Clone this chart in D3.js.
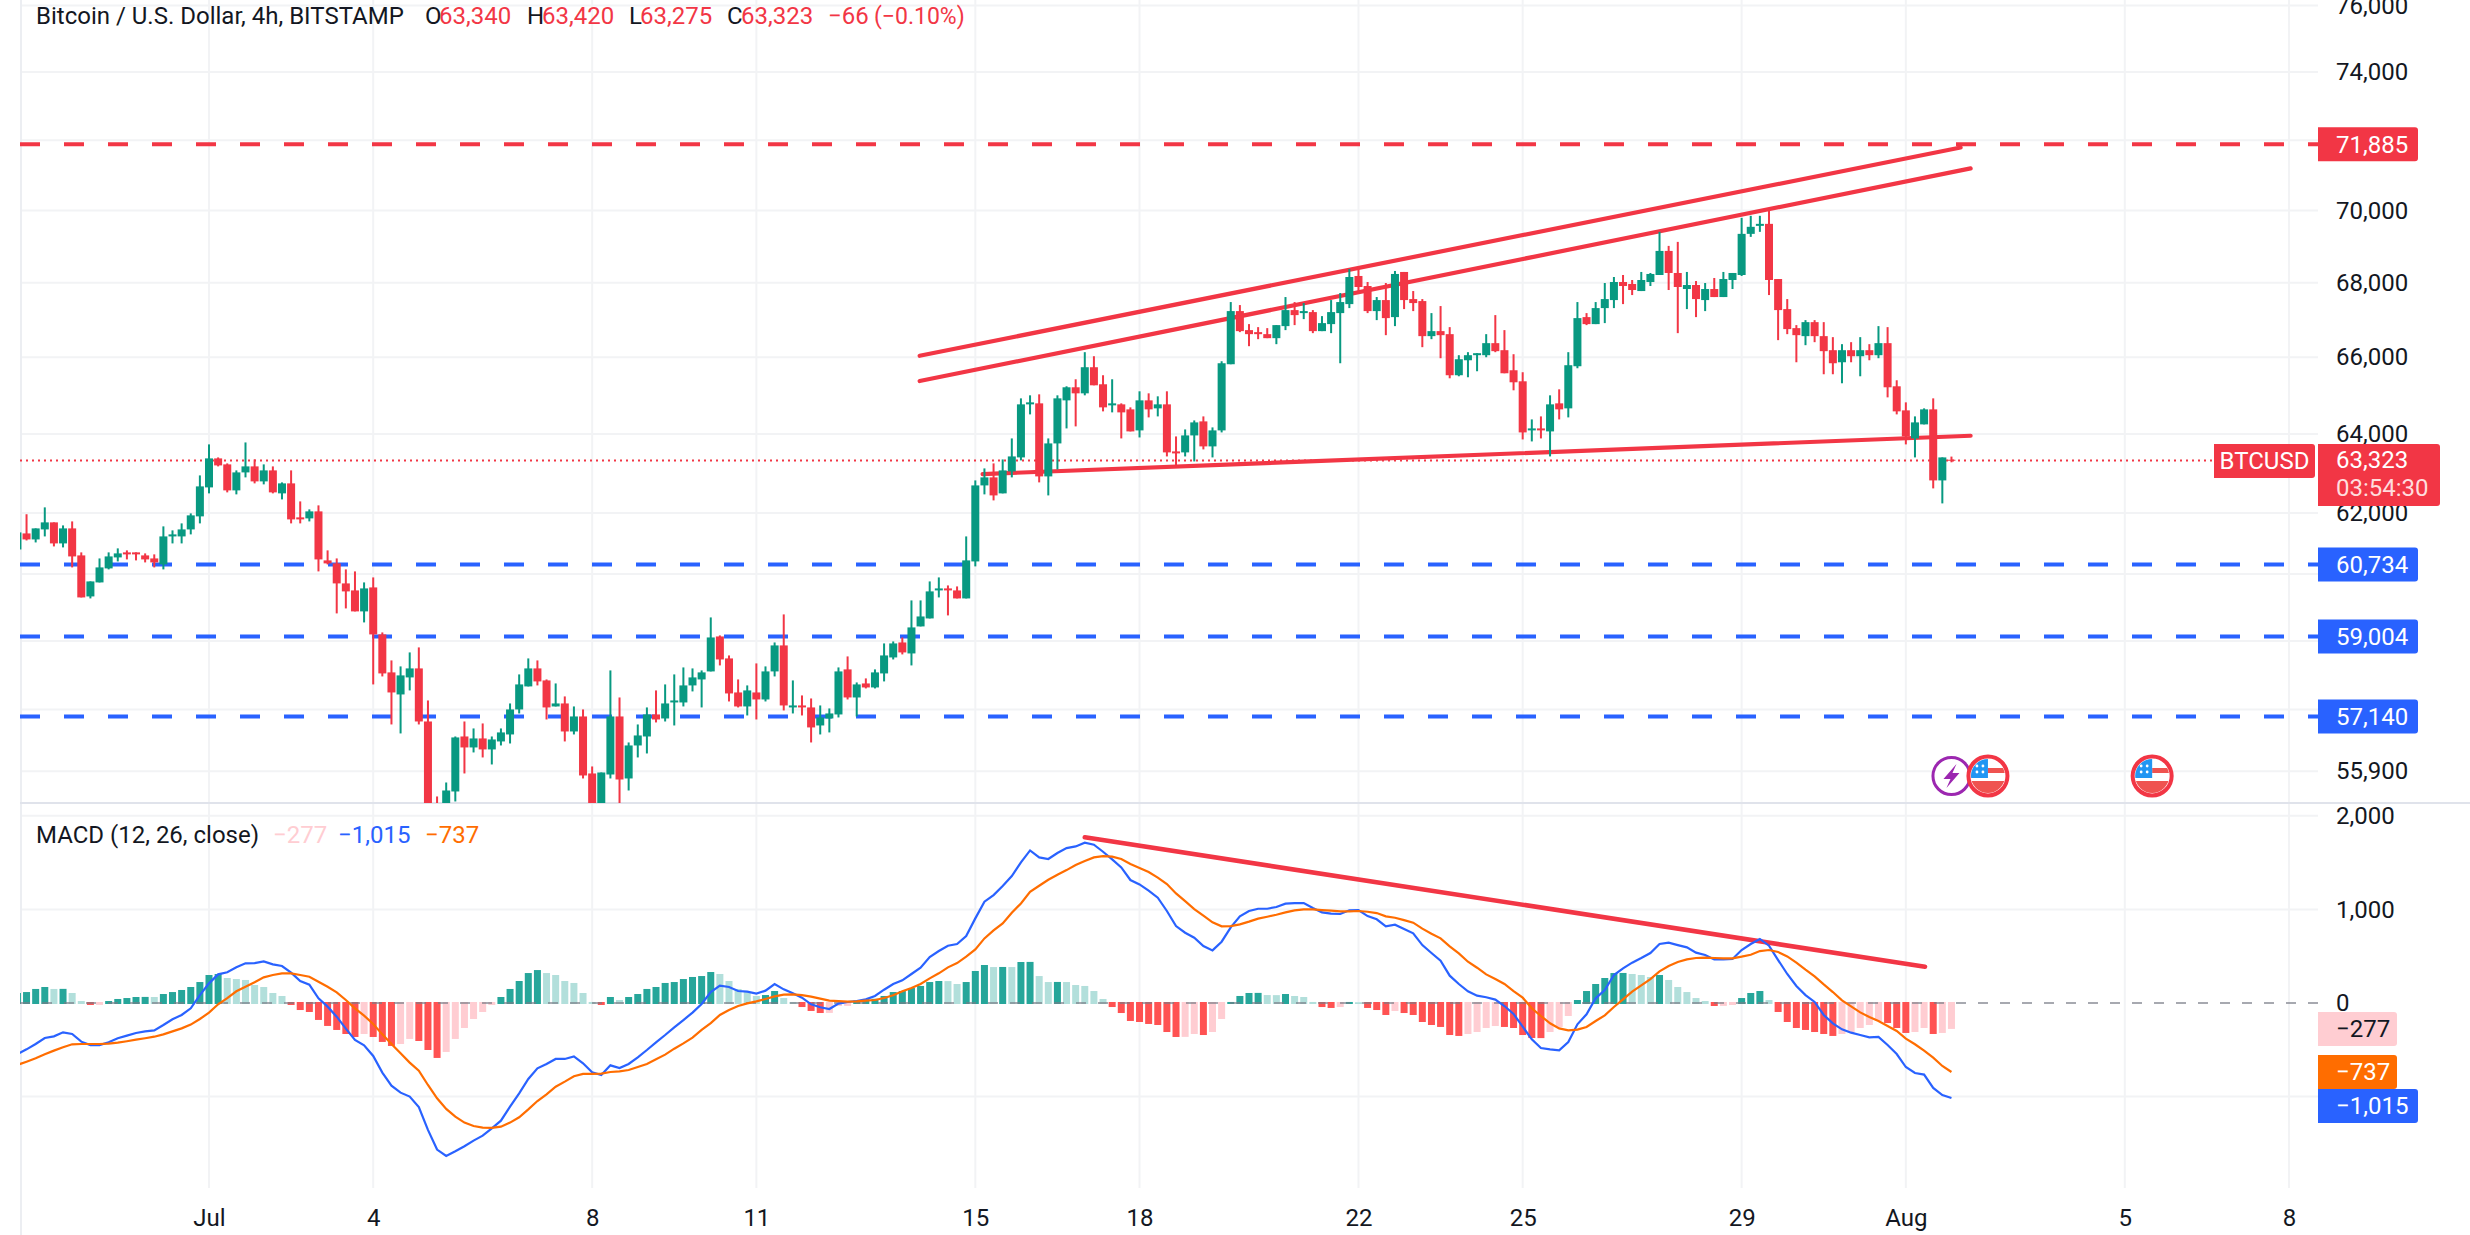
<!DOCTYPE html>
<html>
  <head>
    <title>BTCUSD 4h</title>
    <script src="https://d3js.org/d3.v7.min.js"></script>
    <style>
      html, body { margin: 0; background: #fff; }
      svg { display: block; }
      text { font-family: Roboto, sans-serif; font-size: 24px; fill: #131722; }
    </style>
  </head>
  <body>
    <svg width="2470" height="1235"></svg>
    <script>
      // bar numbers count 4h candles from Jul 1 00:00, the first one sits left of the pane edge
      const firstBar = -21;

      const opens = [
        61100,61495,61347,61594,61768,61249,61619,60955,59960,60298,
        60638,60906,61029,61029,60955,60881,60735,61421,61421,61594,
        61917,62641,63374,63222,62566,63019,63171,62792,63070,62491,
        62742,61892,61867,62041,60833,60760,60274,60105,59601,60177,
        59053,58160,57648,58043,58253,57026,55100,54600,55447,56684,
        56435,56639,56390,56571,56730,57302,57834,58253,57973,57371,
        57440,56798,57141,55849,55000,55826,57141,55737,56480,56684,
        57187,57095,57463,57463,57857,57996,58183,59005,58487,57694,
        57371,57694,57532,58183,58793,57348,57394,57348,56935,57095,
        57187,58230,57578,57903,57810,58136,58510,58863,58604,59243,
        59433,60105,60153,60105,59912,60808,62691,62893,62491,63044,
        63399,64763,64789,62918,63756,64867,65208,65050,65735,65287,
        64737,64763,64633,64090,64867,64659,64763,63552,63527,63961,
        64322,63680,64090,65814,67232,66721,66667,66613,66506,66828,
        67259,67178,67205,66694,66882,67178,67421,68186,67912,67232,
        67530,67070,68296,67557,67503,66560,66694,66613,65524,65919,
        66053,66053,66373,66186,65655,65365,64090,64141,64064,64789,
        64659,65761,67070,66882,67313,67530,68021,67967,67775,68021,
        68213,68875,68268,67830,67939,67530,67830,67612,68076,68213,
        69348,69571,69627,68103,67286,66774,66560,66935,66560,66186,
        65866,66186,66026,66186,66053,66373,65234,64607,63884,64245,
        64633,62817,63340
      ];
      const highs = [
        61520,61970,61619,62141,61768,61693,61792,61029,60322,60881,
        61029,61127,61078,61029,61004,60980,61669,61570,61743,61991,
        62943,63731,63399,63247,63070,63781,63348,63222,63171,62767,
        63070,62290,62091,62191,61078,60881,60614,60565,60298,60419,
        59100,58440,58300,58628,58746,57509,55336,55647,56684,57026,
        56867,56981,56684,56867,57440,58113,58487,58440,57996,57903,
        57602,57371,57302,56006,55871,58206,57578,56548,56958,57348,
        57741,57880,58113,58276,58253,58206,59457,59029,58557,57996,
        57857,58370,58300,58863,59529,57973,57625,57555,57394,57325,
        58276,58534,57926,58020,58230,58840,58887,58981,59864,59864,
        60322,60419,60225,60201,61421,62817,63120,63247,63348,63884,
        64919,64998,65024,63884,64998,65234,65418,66133,66026,65524,
        65418,64789,64685,65103,65050,64972,65103,63935,64115,64347,
        64451,64167,65893,67476,67395,66882,66801,66774,66855,67612,
        67476,67449,67259,67097,67530,67721,68378,68405,68021,67612,
        67994,68323,68296,67775,67557,67178,67368,66801,66053,66133,
        66106,66613,67124,66721,66079,65603,64373,64451,64998,65155,
        66133,67476,67178,67476,67994,68158,68213,68076,68296,68268,
        69404,69014,69125,68296,68048,67994,68131,68296,68268,69795,
        69852,69852,70021,68103,67557,66855,66989,66989,66935,66533,
        66346,66399,66533,66346,66828,66801,65392,64815,64451,64659,
        64919,63399,63420
      ];
      const lows = [
        61100,61322,61273,61421,61175,61151,60662,59936,59912,60298,
        60614,60808,60857,60833,60784,60662,60614,61249,61249,61471,
        61743,62491,63171,62516,62466,62893,62742,62717,62491,62340,
        61743,61743,61792,60565,60735,59553,59672,59601,59338,57880,
        58066,56958,56753,57741,56958,54500,53700,54100,55225,55849,
        56322,56209,56051,56480,56525,57210,57834,57857,57072,57371,
        56571,56730,55737,54800,54800,55737,54900,55469,56209,56299,
        57004,57026,56935,57371,57718,57348,58183,58323,57486,57348,
        57164,57072,57486,58066,57279,57210,57164,56548,56730,56776,
        57118,57532,57141,57787,57787,57950,58463,58581,58323,59243,
        59433,59936,59505,59912,59912,60687,62466,62315,62491,62893,
        63323,64503,62767,62440,63095,64141,64193,64998,65260,64581,
        64555,63884,64064,63909,64425,64451,63424,63196,63424,63297,
        63603,63399,64038,65814,66667,66292,66479,66506,66346,66721,
        66855,67016,66640,66694,66640,65840,67313,67748,67178,66989,
        66586,66828,67286,67232,66266,66479,65973,65444,65497,65471,
        65629,65999,66133,65576,65129,63858,63807,63884,63424,64373,
        64425,65708,66855,66882,66909,67313,67421,67666,67775,67912,
        68213,67803,66640,67286,67070,67232,67612,67612,67830,68186,
        69264,69404,67666,66453,66613,65866,66319,66399,65550,65550,
        65313,65866,65497,65919,65973,64945,64503,63731,63399,64245,
        62616,62240,63275
      ];
      const closes = [
        61520,61347,61619,61768,61249,61619,60930,59936,60322,60662,
        60930,61004,60980,60980,60857,60784,61421,61471,61594,61942,
        62666,63374,63196,62566,63019,63171,62792,63070,62516,62742,
        61842,61842,62041,60857,60760,60274,60081,59601,60153,59053,
        58136,57694,58090,58253,57026,54830,54500,55469,56662,56435,
        56639,56390,56616,56776,57302,57880,58253,57950,57348,57440,
        56798,57141,55804,55000,55871,57141,55714,56480,56707,57187,
        57072,57440,57509,57857,58043,58160,58981,58463,57671,57371,
        57741,57532,58183,58793,57394,57394,57348,56890,57118,57210,
        58183,57578,57880,57810,58160,58557,58840,58628,59219,59480,
        60081,60153,60105,59912,60833,62691,62893,62440,63070,63424,
        64763,64815,62918,63756,64919,65208,65050,65735,65260,64685,
        64789,64555,64064,64867,64633,64763,63527,63501,63961,64296,
        63680,64090,65840,67232,66694,66613,66613,66506,66855,67259,
        67124,67232,66694,66909,67205,67476,68158,67885,67232,67530,
        67043,68241,67530,67449,66560,66694,66586,65524,65946,66053,
        66106,66373,66160,65576,65339,64038,64141,64090,64763,64633,
        65788,67043,66882,67313,67557,68021,67912,67803,68076,68241,
        68875,68268,67885,67939,67557,67830,67612,68103,68268,69348,
        69544,69627,68076,67259,66748,66586,66935,66560,66160,65840,
        66186,66026,66186,66053,66373,65208,64581,63935,64296,64633,
        62817,63399,63323
      ];

      const histogram = [
        107,117,150,171,150,151,107,21,-21,-20,
        21,43,53,64,65,64,96,117,139,171,
        224,299,310,267,256,246,192,171,107,75,
        -21,-75,-96,-181,-245,-288,-331,-363,-331,-363,
        -416,-459,-438,-384,-406,-502,-587,-523,-384,-267,
        -171,-96,-21,64,150,235,320,352,320,299,
        235,214,107,11,-21,64,32,64,96,150,
        171,214,224,256,278,288,331,310,235,150,
        117,75,85,128,53,11,-43,-85,-107,-106,
        -32,-31,25,43,45,75,117,128,160,182,
        224,235,234,203,224,342,406,384,385,384,
        438,439,288,224,225,224,192,182,128,43,
        -43,-107,-192,-203,-224,-235,-310,-363,-362,-331,
        -342,-310,-171,11,75,107,108,85,84,96,
        75,64,11,-43,-53,-43,11,8,-53,-75,
        -128,-85,-107,-128,-203,-235,-256,-342,-352,-331,
        -310,-267,-246,-256,-267,-342,-374,-375,-310,-256,
        -139,32,128,203,267,320,321,310,299,278,
        299,246,171,117,53,21,-32,-31,-21,53,
        107,128,32,-96,-203,-267,-288,-310,-331,-352,
        -331,-310,-267,-235,-192,-214,-267,-320,-310,-267,
        -331,-320,-277
      ];
      const macdLine = [
        -545,-495,-438,-374,-356,-313,-331,-413,-449,-449,
        -420,-377,-349,-320,-303,-292,-235,-174,-128,-57,
        85,210,306,328,381,424,427,445,413,395,
        324,235,196,50,-39,-146,-274,-395,-452,-566,
        -744,-883,-958,-1000,-1111,-1356,-1566,-1634,-1584,-1531,
        -1470,-1417,-1339,-1257,-1107,-965,-812,-698,-651,-598,
        -598,-570,-644,-740,-769,-666,-694,-651,-580,-502,
        -420,-342,-260,-182,-103,-11,117,185,171,128,
        121,100,132,203,146,103,57,-14,-46,-64,
        -7,11,21,39,75,142,203,242,310,377,
        491,555,612,630,716,904,1082,1153,1250,1356,
        1502,1630,1556,1538,1602,1655,1673,1712,1691,1616,
        1534,1449,1314,1267,1200,1125,983,822,751,698,
        609,562,655,808,926,983,1007,1007,1025,1061,
        1068,1068,1015,968,954,951,990,993,929,894,
        819,837,790,744,619,534,452,292,203,125,
        78,61,36,-32,-117,-253,-388,-481,-495,-506,
        -417,-228,-121,50,139,299,370,431,481,534,
        630,644,619,595,538,513,466,466,470,566,
        630,684,612,459,310,182,85,11,-128,-217,
        -281,-317,-342,-367,-363,-449,-545,-684,-748,-765,
        -908,-983,-1015
      ];
      const signalLine = [
        -662,-627,-591,-548,-509,-473,-441,-438,-438,-438,
        -434,-424,-409,-392,-377,-360,-335,-303,-271,-231,
        -171,-103,-14,53,125,174,221,274,299,317,
        317,299,281,228,174,114,32,-57,-135,-224,
        -335,-438,-538,-637,-723,-876,-1018,-1132,-1214,-1278,
        -1314,-1331,-1335,-1321,-1278,-1221,-1136,-1047,-975,-894,
        -840,-783,-758,-758,-755,-737,-730,-716,-684,-651,
        -602,-552,-488,-431,-370,-288,-214,-128,-75,-32,
        -4,18,43,71,89,93,85,68,46,25,
        21,14,18,25,32,53,82,125,160,203,
        263,317,381,427,495,573,690,775,851,965,
        1064,1189,1253,1317,1371,1420,1474,1517,1556,1570,
        1563,1538,1485,1442,1399,1339,1271,1171,1089,1004,
        933,862,819,822,840,869,901,922,943,968,
        990,1000,1000,993,986,979,979,983,975,961,
        926,911,886,858,794,740,691,605,530,441,
        377,306,256,203,128,57,-57,-139,-217,-271,
        -292,-285,-256,-192,-132,-43,39,121,189,256,
        338,395,438,466,481,484,481,477,477,495,
        516,555,566,545,498,431,356,285,199,117,
        28,-36,-100,-150,-192,-246,-299,-381,-441,-509,
        -584,-673,-737
      ];

      const dayBars = [0, 18, 42, 60, 84, 102, 126, 144, 168, 186, 210, 228];
      const dayLabels = ["Jul", "4", "8", "11", "15", "18", "22", "25", "29", "Aug", "5", "8"];
      const priceGrid = [76000, 74000, 72000, 70000, 68000, 66000, 64000, 62000, 60500, 58900, 57300, 55900];
      const macdGrid = [2000, 1000, -1000];
      // the other grid levels have their labels covered by the price tags
      const priceLabels = [76000, 74000, 70000, 68000, 66000, 64000, 62000, 55900];
      const macdLabels = [2000, 1000, 0];

      const resistance = 71885;
      const supports = [60734, 59004, 57140];
      const lastPrice = 63323;

      // [startBar, startValue, endBar, endValue]
      const priceTrends = [
        [77.9, 66038, 192, 71793],
        [77.9, 65372, 193.1, 71193],
        [84.8, 62977, 193.1, 63952]
      ];
      const macdTrend = [96, 1770, 188.1, 388];
      const eventBars = [195, 213];
      const lightningBar = 191;

      const red = "#f23645", green = "#089981", blue = "#2962ff", orange = "#ff6d00";
      const gridColor = "#f2f3f5";
      const paneLeft = 20, paneRight = 2318, priceBottom = 803, macdBottom = 1188;

      const svg = d3.select("svg");
      const bars = d3.range(opens.length).map(k => k + firstBar);

      const x = d3.scaleLinear().domain([0, 228]).range([209, 2289]);
      const y = d3.scaleLog().domain([71885, 57140]).range([144.3, 716.5]);
      const m = d3.scaleLinear().domain([0, 1000]).range([1003, 909.4]);

      const defs = svg.append("defs");
      defs.append("clipPath").attr("id", "pricePane").append("rect")
        .attr("x", paneLeft).attr("y", 0).attr("width", paneRight - paneLeft).attr("height", priceBottom);
      defs.append("clipPath").attr("id", "macdPane").append("rect")
        .attr("x", paneLeft).attr("y", priceBottom).attr("width", paneRight - paneLeft).attr("height", macdBottom - priceBottom);

      // grid
      const grid = svg.append("g").attr("stroke", gridColor).attr("stroke-width", 2);
      grid.selectAll(".v").data(dayBars).enter().append("line")
        .attr("x1", d => x(d)).attr("x2", d => x(d)).attr("y1", 0).attr("y2", macdBottom);
      grid.selectAll(".p").data(priceGrid).enter().append("line")
        .attr("x1", paneLeft).attr("x2", paneRight).attr("y1", d => y(d)).attr("y2", d => y(d));
      grid.selectAll(".m").data(macdGrid).enter().append("line")
        .attr("x1", paneLeft).attr("x2", paneRight).attr("y1", d => m(d)).attr("y2", d => m(d));

      svg.append("line").attr("x1", 21).attr("x2", 21).attr("y1", 0).attr("y2", 1235)
        .attr("stroke", "#eceef2").attr("stroke-width", 2);
      svg.append("line").attr("x1", paneLeft).attr("x2", 2470).attr("y1", priceBottom).attr("y2", priceBottom)
        .attr("stroke", "#e0e3eb").attr("stroke-width", 2);

      // axes
      const priceAxis = svg.append("g").attr("transform", "translate(" + paneRight + ",0)")
        .call(d3.axisRight(y).tickValues(priceLabels).tickFormat(d3.format(",")).tickSize(0).tickPadding(18));
      const macdAxis = svg.append("g").attr("transform", "translate(" + paneRight + ",0)")
        .call(d3.axisRight(m).tickValues(macdLabels).tickFormat(d3.format(",")).tickSize(0).tickPadding(18));
      const timeAxis = svg.append("g").attr("transform", "translate(0,1209)")
        .call(d3.axisBottom(x).tickValues(dayBars).tickFormat((d, i) => dayLabels[i]).tickSize(0).tickPadding(0));
      [priceAxis, macdAxis, timeAxis].forEach(a => {
        a.select(".domain").remove();
        a.attr("font-family", null).attr("font-size", null);
      });

      // price pane
      const pricePane = svg.append("g").attr("clip-path", "url(#pricePane)");
      const levelLine = (value, color) => pricePane.append("line")
        .attr("x1", paneLeft).attr("x2", paneRight).attr("y1", y(value)).attr("y2", y(value))
        .attr("stroke", color).attr("stroke-width", 4).attr("stroke-dasharray", "20 24");
      levelLine(resistance, red);
      supports.forEach(s => levelLine(s, blue));

      pricePane.append("line")
        .attr("x1", paneLeft).attr("x2", paneRight).attr("y1", y(lastPrice)).attr("y2", y(lastPrice))
        .attr("stroke", red).attr("stroke-width", 2).attr("stroke-dasharray", "2 4");

      pricePane.selectAll(".trend").data(priceTrends).enter().append("line")
        .attr("x1", d => x(d[0])).attr("y1", d => y(d[1]))
        .attr("x2", d => x(d[2])).attr("y2", d => y(d[3]))
        .attr("stroke", red).attr("stroke-width", 4.2).attr("stroke-linecap", "round");

      const candleColor = i => closes[i] >= opens[i] ? green : red;
      pricePane.selectAll(".wick").data(bars).enter().append("rect")
        .attr("x", d => x(d) - 1).attr("width", 2)
        .attr("y", (d, i) => y(highs[i]))
        .attr("height", (d, i) => y(lows[i]) - y(highs[i]))
        .attr("fill", (d, i) => candleColor(i));
      pricePane.selectAll(".body").data(bars).enter().append("rect")
        .attr("x", d => x(d) - 4).attr("width", 8)
        .attr("y", (d, i) => y(Math.max(opens[i], closes[i])))
        .attr("height", (d, i) => Math.max(1, Math.abs(y(opens[i]) - y(closes[i]))))
        .attr("fill", (d, i) => candleColor(i));

      // macd pane
      const macdPane = svg.append("g").attr("clip-path", "url(#macdPane)");
      const histColor = i => {
        const v = histogram[i], prev = i > 0 ? histogram[i - 1] : 0;
        if (v >= 0) return v > prev ? "#26a69a" : "#b2dfdb";
        return v < prev ? "#ff5252" : "#ffcdd2";
      };
      macdPane.selectAll(".hist").data(bars).enter().append("rect")
        .attr("x", d => x(d) - 3.5).attr("width", 7)
        .attr("y", (d, i) => histogram[i] >= 0 ? m(histogram[i]) : m(0) - 1)
        .attr("height", (d, i) => Math.abs(m(histogram[i]) - m(0)) + 1)
        .attr("fill", (d, i) => histColor(i));

      macdPane.append("line")
        .attr("x1", paneLeft).attr("x2", paneRight).attr("y1", m(0)).attr("y2", m(0))
        .attr("stroke", "#787b86").attr("stroke-opacity", 0.65).attr("stroke-width", 2).attr("stroke-dasharray", "10 12");

      macdPane.append("line")
        .attr("x1", x(macdTrend[0])).attr("y1", m(macdTrend[1]))
        .attr("x2", x(macdTrend[2])).attr("y2", m(macdTrend[3]))
        .attr("stroke", red).attr("stroke-width", 4.6).attr("stroke-linecap", "round");

      const macdPath = values => d3.line().x((d, i) => x(bars[i])).y(d => m(d))(values);
      macdPane.append("path").attr("d", macdPath(macdLine))
        .attr("fill", "none").attr("stroke", blue).attr("stroke-width", 2.2);
      macdPane.append("path").attr("d", macdPath(signalLine))
        .attr("fill", "none").attr("stroke", orange).attr("stroke-width", 2.2);

      // event icons
      const iconY = 776;
      const lightning = svg.append("g").attr("transform", "translate(" + x(lightningBar) + "," + iconY + ")");
      lightning.append("circle").attr("r", 18.5).attr("fill", "#fff").attr("stroke", "#9c27b0").attr("stroke-width", 3);
      lightning.append("path").attr("d", "M5,-12 L-8,3 L-1,3 L-5,12 L8,-3 L1,-3 Z").attr("fill", "#9c27b0");

      eventBars.forEach((b, n) => {
        const flag = svg.append("g").attr("transform", "translate(" + x(b) + "," + iconY + ")");
        const id = "flagClip" + n;
        svg.select("defs").append("clipPath").attr("id", id).append("circle").attr("r", 17);
        flag.append("circle").attr("r", 19.5).attr("fill", "#fff").attr("stroke", red).attr("stroke-width", 4);
        const inner = flag.append("g").attr("clip-path", "url(#" + id + ")");
        inner.append("rect").attr("x", -18).attr("y", 5).attr("width", 36).attr("height", 14).attr("fill", "#ef5350");
        inner.append("rect").attr("x", 0).attr("y", -8).attr("width", 18).attr("height", 5).attr("fill", "#ef5350");
        inner.append("rect").attr("x", -18).attr("y", -18).attr("width", 18).attr("height", 20).attr("fill", "#2196f3");
        inner.selectAll(".star").data([[-11, -10], [-5, -10], [-11, -4], [-5, -4]]).enter().append("circle")
          .attr("cx", d => d[0]).attr("cy", d => d[1]).attr("r", 1.4).attr("fill", "#fff");
      });

      // price tags
      const tag = (xa, ya, w, h, fill) => svg.append("path")
        .attr("d", "M" + xa + "," + ya + "h" + (w - 3) + "a3,3 0 0 1 3,3v" + (h - 6) + "a3,3 0 0 1 -3,3h" + (3 - w) + "z")
        .attr("fill", fill);
      const label = (xa, ya, txt, fill, anchor) => svg.append("text")
        .attr("x", xa).attr("y", ya).attr("dy", ".35em").attr("text-anchor", anchor || "start")
        .style("fill", fill).text(txt);

      tag(paneRight, y(resistance) - 17, 100, 34, red);
      label(2336, y(resistance), d3.format(",")(resistance), "#fff");
      supports.forEach(s => {
        tag(paneRight, y(s) - 17, 100, 34, blue);
        label(2336, y(s), d3.format(",")(s), "#fff");
      });
      tag(2214, 444, 101, 34, red);
      label(2264.5, 461, "BTCUSD", "#fff", "middle");
      tag(paneRight, 444, 122, 62, red);
      label(2336, 460, d3.format(",")(lastPrice), "#fff");
      label(2336, 488, "03:54:30", "#fdd", "start");

      tag(paneRight, 1012, 79, 34, "#ffcdd2");
      label(2336, 1029, "−277", "#131722");
      tag(paneRight, 1055, 79, 34, orange);
      label(2336, 1072, "−737", "#fff");
      tag(paneRight, 1089, 100, 34, blue);
      label(2336, 1106, "−1,015", "#fff");

      // legends
      const ink = "#131722";
      label(36, 16, "Bitcoin / U.S. Dollar, 4h, BITSTAMP", ink);
      [["O", 425, "63,340", 439], ["H", 527, "63,420", 542], ["L", 629, "63,275", 640], ["C", 727, "63,323", 741]]
        .forEach(d => {
          label(d[1], 16, d[0], ink);
          label(d[3], 16, d[2], red);
        });
      label(828, 16, "−66", red);
      label(874, 16, "(−0.10%)", red).style("font-size", "23px");
      label(36, 835, "MACD (12, 26, close)", ink);
      label(273, 835, "−277", "#ffcdd2");
      label(338, 835, "−1,015", blue);
      label(425, 835, "−737", orange);
    </script>
  </body>
</html>
